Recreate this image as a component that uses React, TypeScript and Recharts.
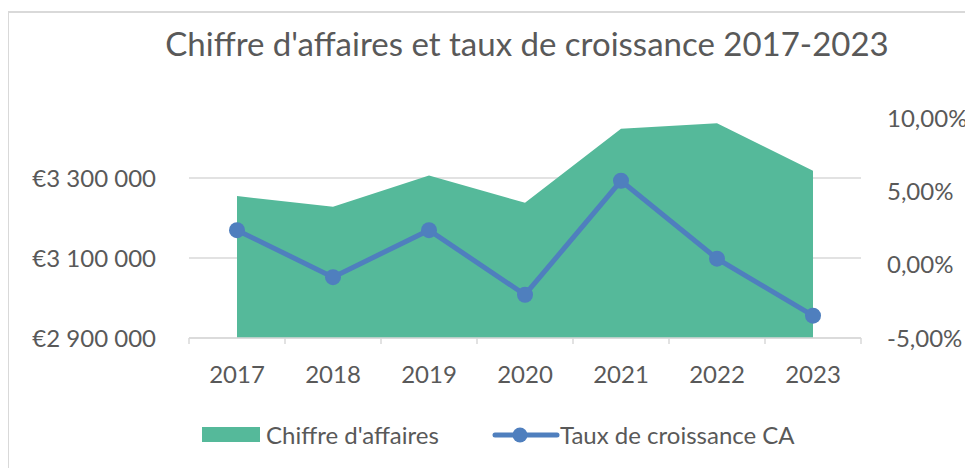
import React from "react";
import {
  ComposedChart,
  Area,
  Line,
  XAxis,
  YAxis,
  CartesianGrid,
  Legend,
} from "recharts";

const years = ["2017", "2018", "2019", "2020", "2021", "2022", "2023"];
const revenue = [3255000, 3228000, 3306000, 3238000, 3423000, 3437000, 3318000];
const growth = [0.0235, -0.0085, 0.0235, -0.0205, 0.0572, 0.0041, -0.0348];
const leftTicks = [2900000, 3100000, 3300000];
const rightTicks = [-0.05, 0, 0.05, 0.1];

const data = years.map((y, i) => ({ year: y, ca: revenue[i], taux: growth[i] }));

const FONT = "Lato, 'Noto Sans', sans-serif";
const TEXT = "#595959";
const GREEN = "#55B99A";
const BLUE = "#4F7FBE";
const GRID = "#D9D9D9";
const PLOT_TOP = 118;

const fmtEuro = (v: number) => {
  const s = Math.round(v).toString().replace(/\B(?=(\d{3})+(?!\d))/g, " ");
  return "€" + s;
};
const fmtPct = (v: number) => (v * 100).toFixed(2).replace(".", ",") + "%";

const XTick = (props: any) => {
  const { x, y, payload, index, visibleTicksCount } = props;
  const off = payload.offset || 0;
  const isLast = index === (visibleTicksCount ?? years.length) - 1;
  return (
    <g>
      <line x1={x - off} x2={x - off} y1={y} y2={y + 6} stroke={GRID} strokeWidth={1.5} />
      {isLast && (
        <line x1={x + off} x2={x + off} y1={y} y2={y + 6} stroke={GRID} strokeWidth={1.5} />
      )}
      <text
        x={x}
        y={y + 35}
        textAnchor="middle"
        dominantBaseline="central"
        fill={TEXT}
        fontSize={24}
        fontFamily={FONT}
      >
        {payload.value}
      </text>
    </g>
  );
};

const GridLine = (props: any) => {
  const { x1, x2, y1, y2 } = props;
  if (Math.abs(y1 - PLOT_TOP) < 2) return <g />;
  return <line x1={x1} x2={x2} y1={y1} y2={y2} stroke={GRID} strokeWidth={1.5} />;
};

const LegendContent = () => (
  <div
    style={{
      position: "relative",
      width: 973,
      height: 30,
      fontFamily: FONT,
      fontSize: 24,
      color: TEXT,
    }}
  >
    <div
      style={{
        position: "absolute",
        left: 202,
        top: 7,
        width: 58,
        height: 15,
        background: GREEN,
      }}
    />
    <div style={{ position: "absolute", left: 266, top: 0, lineHeight: "30px", whiteSpace: "nowrap" }}>
      Chiffre d'affaires
    </div>
    <svg style={{ position: "absolute", left: 492, top: 0 }} width={68} height={30}>
      <line x1={3} x2={65} y1={15} y2={15} stroke={BLUE} strokeWidth={5} strokeLinecap="round" />
      <circle cx={28} cy={15} r={7.5} fill={BLUE} />
    </svg>
    <div style={{ position: "absolute", left: 560, top: 0, lineHeight: "30px", whiteSpace: "nowrap" }}>
      Taux de croissance CA
    </div>
  </div>
);

export default function App() {
  return (
    <div
      style={{
        position: "relative",
        width: 973,
        height: 468,
        margin: "-8px 0 0 -8px",
        overflow: "hidden",
        background: "#fff",
      }}
    >
      <div
        style={{
          position: "absolute",
          left: 7,
          top: 11,
          width: 1000,
          height: 500,
          border: "2px solid #D9D9D9",
        }}
      />
      <div
        style={{
          position: "absolute",
          left: 0,
          width: 1054,
          top: 21,
          textAlign: "center",
          fontFamily: FONT,
          fontSize: 33,
          color: TEXT,
          lineHeight: "44px",
          whiteSpace: "nowrap",
        }}
      >
        Chiffre d'affaires et taux de croissance 2017-2023
      </div>
      <div style={{ position: "absolute", left: 0, top: 0 }}>
        <ComposedChart
          width={973}
          height={468}
          data={data}
          margin={{ top: PLOT_TOP, right: 8, left: 8, bottom: 90 }}
        >
          <CartesianGrid
            yAxisId="left"
            vertical={false}
            horizontal={<GridLine />}
            stroke={GRID}
            strokeWidth={1.5}
          />
          <XAxis
            dataKey="year"
            scale="band"
            height={40}
            tickSize={0}
            tickMargin={0}
            axisLine={{ stroke: GRID, strokeWidth: 1.5 }}
            tickLine={false}
            tick={<XTick />}
            interval={0}
          />
          <YAxis
            yAxisId="left"
            orientation="left"
            width={181}
            domain={[2900000, 3450000]}
            ticks={leftTicks}
            allowDataOverflow
            axisLine={false}
            tickLine={false}
            tickSize={0}
            tickMargin={33}
            tickFormatter={fmtEuro}
            tick={{ fill: TEXT, fontSize: 24, fontFamily: FONT }}
          />
          <YAxis
            yAxisId="right"
            orientation="right"
            width={104}
            domain={[-0.05, 0.1]}
            ticks={rightTicks}
            allowDataOverflow
            axisLine={false}
            tickLine={false}
            tickSize={0}
            tickMargin={26}
            tickFormatter={fmtPct}
            tick={{ fill: TEXT, fontSize: 24, fontFamily: FONT }}
          />
          <Area
            yAxisId="left"
            dataKey="ca"
            type="linear"
            fill={GREEN}
            fillOpacity={1}
            stroke="none"
            isAnimationActive={false}
          />
          <Line
            yAxisId="right"
            dataKey="taux"
            type="linear"
            stroke={BLUE}
            strokeWidth={5}
            dot={{ r: 8, fill: BLUE, stroke: BLUE, strokeWidth: 0 }}
            activeDot={false}
            isAnimationActive={false}
          />
          <Legend
            verticalAlign="middle"
            layout="horizontal"
            align="center"
            content={<LegendContent />}
            wrapperStyle={{ position: "absolute", top: 420, left: 0, width: 973 }}
          />
        </ComposedChart>
      </div>
    </div>
  );
}
